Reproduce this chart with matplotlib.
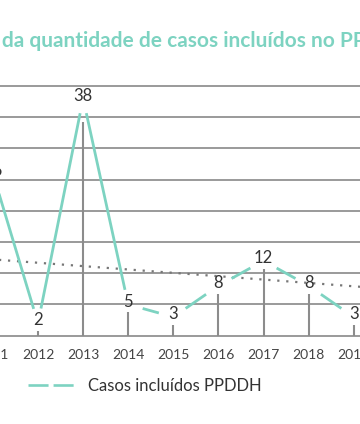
import matplotlib
matplotlib.use('Agg')
import matplotlib.pyplot as plt
from matplotlib.lines import Line2D
import numpy as np

# ---- data ----
years = [2011, 2012, 2013, 2014, 2015, 2016, 2017, 2018, 2019]
cases = [26, 2, 38, 5, 3, 8, 12, 8, 3]
trend_years = [2009, 2022]
trend_values = [13.3, 6.3]
y_ticks = [0, 5, 10, 15, 20, 25, 30, 35, 40]
x_ticks = list(range(2010, 2022))
title = "Evolução da quantidade de casos incluídos no PPDDH"
series_label = "Casos incluídos PPDDH"

# ---- style ----
TEAL = '#7dd3c1'
GRID = '#9a9a9a'
DROP = '#8c8c8c'
TXT = '#333333'
FONT = ['Lato', 'DejaVu Sans']
plt.rcParams['font.family'] = FONT

W, H = 360, 424
fig = plt.figure(figsize=(W / 100, H / 100), dpi=100)

# axes placement in pixels (the chart is wider than the visible window)
xlim = (2009.5, 2021.5)
ylim = (-0.3, 40.3)
X12, XSTEP = 38.0, 45.1
x0_px = X12 + (xlim[0] - 2012) * XSTEP
x1_px = X12 + (xlim[1] - 2012) * XSTEP
y_bot_px = 335.7 - ylim[0] * 6.2425
y_top_px = 335.7 - ylim[1] * 6.2425
ax = fig.add_axes([x0_px / W, 1 - y_bot_px / H, (x1_px - x0_px) / W, (y_bot_px - y_top_px) / H])
for s in ax.spines.values():
    s.set_visible(False)
ax.set_yticks(y_ticks)
ax.set_yticklabels([])
ax.set_xticks(x_ticks)
ax.set_xticklabels([str(y) for y in x_ticks])
ax.set_xlim(*xlim)
ax.set_ylim(*ylim)
ax.yaxis.grid(True, color=GRID, lw=1.4, zorder=1)
ax.set_axisbelow(True)
ax.tick_params(axis='y', length=0)
ax.tick_params(axis='x', length=0, pad=8, labelsize=10, labelcolor='#444444')

# dotted trend line
ax.plot(trend_years, trend_values, color='#777777', lw=1.6,
        linestyle=(0, (1, 3.05)), zorder=2)

# drop lines (stop just below each value label)
drop_gap_px = [8, 8, 24, 8, 8, 8, 8, 8, 8]
for yr, v, g in zip(years, cases, drop_gap_px):
    dx, dy = ax.transData.transform((yr, v))
    top = ax.transData.inverted().transform((dx, dy - g))[1]
    ax.plot([yr, yr], [0, top], color=DROP, lw=1.5, zorder=2,
            solid_capstyle='butt')

# main line, with gaps around the value labels
pts = ax.transData.transform(np.column_stack([years, cases]))
gap = 15
for i in range(len(pts) - 1):
    a, b = pts[i], pts[i + 1]
    d = b - a
    u = d / np.hypot(*d)
    seg = ax.transData.inverted().transform(np.array([a + u * gap, b - u * gap]))
    ax.plot(seg[:, 0], seg[:, 1], color=TEAL, lw=2.0, zorder=3,
            solid_capstyle='butt')

for yr, v in zip(years, cases):
    ax.annotate(str(v), (yr, v), xytext=(0, 2), textcoords='offset points',
                ha='center', va='center', fontsize=12, color=TXT, zorder=4)
ax.set_xlim(*xlim)
ax.set_ylim(*ylim)

# legend
handle = Line2D([], [], color=TEAL, lw=1.9, linestyle=(0, (7.6, 1.9)))
fig.legend([handle], [series_label], loc='center left',
           bbox_to_anchor=(28 / W, 1 - 386 / H), frameon=False,
           handlelength=3.0, handletextpad=0.6, fontsize=12,
           borderpad=0, borderaxespad=0, labelcolor=TXT)

# title (wider than the visible window; "da" begins at x=2px)
renderer = fig.canvas.get_renderer()
tkw = dict(fontsize=15, color=TEAL, fontweight='bold', va='baseline', ha='left')
first_word = title.split(' ')[0]
t1 = fig.text(0, 0, first_word + ' da', **tkw)
t2 = fig.text(0, 0, 'da', **tkw)
pref_w = t1.get_window_extent(renderer).width - t2.get_window_extent(renderer).width
t1.remove(); t2.remove()
fig.text((2 - pref_w) / W, 1 - 47 / H, title, **tkw)

fig.savefig('out.png', dpi=100)
